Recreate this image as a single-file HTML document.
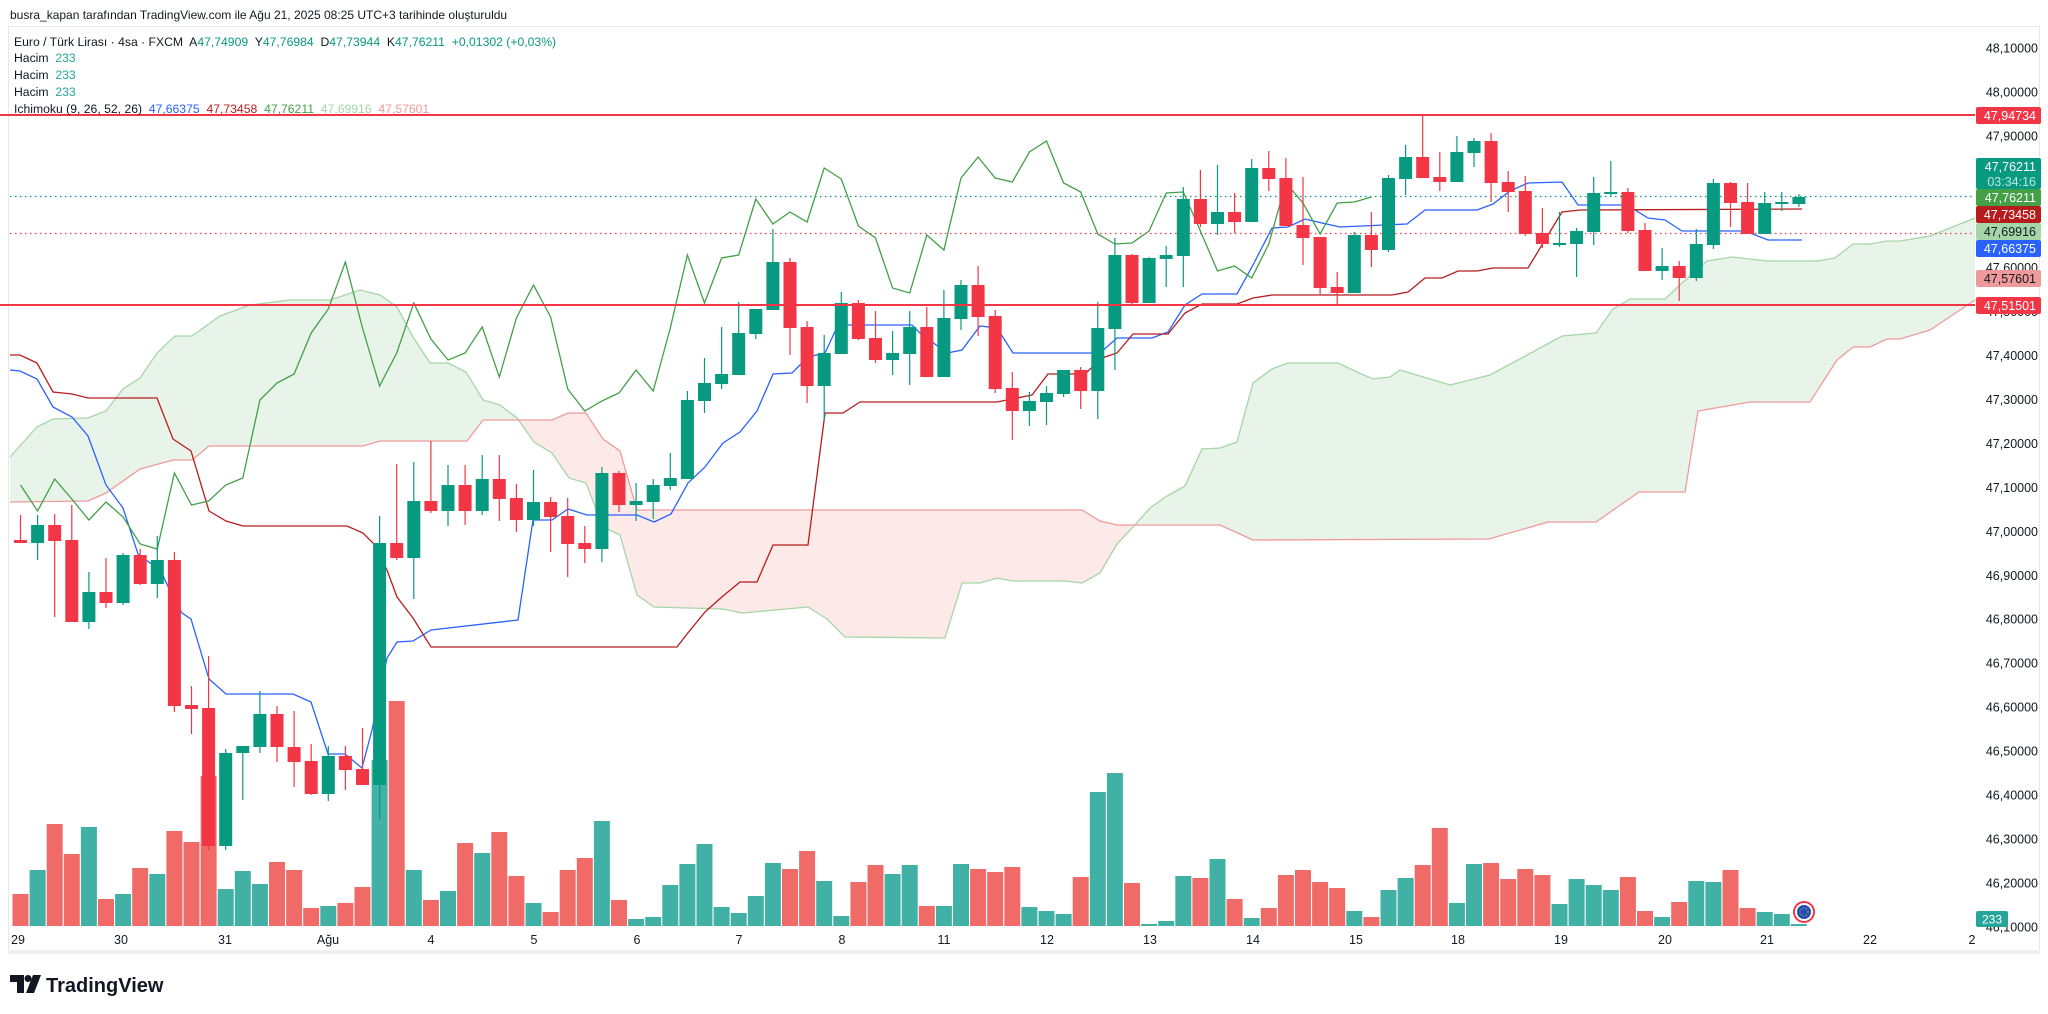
<!DOCTYPE html>
<html><head><meta charset="utf-8"><style>
html,body{margin:0;padding:0;background:#fff;width:2048px;height:1014px;overflow:hidden}
svg{display:block}
text{font-family:"Liberation Sans",sans-serif}
</style></head><body>
<svg id="s" width="2048" height="1014" viewBox="0 0 2048 1014" xmlns="http://www.w3.org/2000/svg"></svg>
<script>
var S=document.getElementById('s');var h='';
function add(x){h+=x;}
var C=[[540,543,515,543],[543,525,515,560],[525,541,514,617],[540,622,505,622],[622,592,572,629],[592,603,558,608],[603,555,553,605],[555,584,549,585],[584,560,536,598],[560,706,552,712],
[705,709,686,734],[708,846,656,850],[846,753,749,850],[753,746,746,800],[747,714,691,753],[714,747,706,762],[747,762,711,787],[761,794,744,795],[794,756,746,801],[756,770,746,790],
[769,785,728,785],[785,543,516,819],[543,558,464,560],[558,501,462,599],[501,511,441,513],[511,485,465,526],[485,511,465,525],[511,479,455,515],[479,499,455,521],[498,520,484,532],
[520,502,470,526],[502,517,497,552],[516,544,498,577],[543,549,526,563],[549,473,467,562],[473,505,471,512],[505,501,483,521],[502,485,479,519],[486,478,453,490],[479,400,391,479],
[401,383,358,413],[384,374,327,389],[375,333,302,375],[334,309,309,339],[310,262,229,310],[262,328,258,355],[327,386,321,403],[386,353,335,420],[354,303,292,354],[303,339,300,340],
[338,360,311,363],[360,353,331,375],[354,327,311,385],[327,377,307,377],[377,318,290,377],[319,285,280,330],[285,317,266,336],[316,389,310,393],[388,411,372,440],[411,401,392,426],
[402,393,386,425],[394,370,370,397],[370,391,367,409],[391,328,302,419],[329,255,238,370],[255,303,254,305],[303,258,257,303],[259,255,246,287],[256,199,187,287],[199,224,170,227],
[224,212,165,235],[212,222,193,233],[222,168,159,222],[168,179,151,191],[178,226,158,226],[225,238,177,265],[237,288,237,294],[287,293,272,304],[293,235,232,293],[235,250,212,267],
[250,178,175,252],[179,157,145,195],[157,178,116,178],[177,182,152,191],[182,152,136,182],[153,141,138,167],[141,183,133,202],[182,192,171,212],[191,234,176,236],[233,244,208,248],
[244,243,212,247],[244,231,228,277],[232,193,177,245],[193,192,161,197],[192,231,188,233],[230,271,223,271],[271,266,248,280],[266,278,261,301],[278,244,229,281],[245,183,179,249],
[183,203,182,227],[202,234,183,234],[234,203,192,234],[203,202,192,211],[204,197,194,207]];
var V=[894,870,824,854,827,899,894,868,874,831,842,776,889,871,884,862,870,908,906,903,887,760,701,870,900,891,843,853,832,876,903,912,870,858,821,900,919,917,885,864,844,907,913,896,863,869,851,881,916,882,865,874,865,906,906,864,869,872,867,907,911,914,877,792,773,883,924,921,876,878,859,899,918,908,875,870,882,888,911,917,890,878,865,828,903,864,863,879,869,875,904,879,885,890,877,911,917,902,881,882,870,908,912,914,924];
function X(i){return 20.5+17.1*i;}
var A=[[10,457],[37,427],[53,419],[88,418],[106,411],[123,389],[140,378],[157,353],[175,336],[192,336],[220,316],[250,305],[290,300],[330,300],[360,290],[380,295],[397,307],[413,337],[430,363],[448,363],[466,372],[483,400],[500,405],[517,418],[534,442],[552,453],[569,478],[586,483],[603,527],[620,535],[637,595],[654,607],[723,609],[742,613],[808,607],[827,619],[845,637],[945,638],[962,583],[980,583],[997,578],[1013,581],[1065,581],[1082,583],[1100,573],[1117,544],[1133,527],[1150,508],[1167,496],[1185,486],[1202,449],[1220,448],[1237,442],[1253,383],[1272,369],[1288,363],[1338,363],[1357,372],[1373,379],[1390,377],[1400,370],[1450,385],[1490,375],[1518,360],[1562,336],[1596,333],[1613,309],[1630,299],[1665,299],[1682,283],[1707,261],[1732,257],[1767,261],[1817,261],[1835,258],[1853,244],[1870,244],[1887,241],[1900,241],[1930,236],[1975,218]];
var B=[[10,502],[88,501],[106,493],[140,469],[173,460],[192,460],[209,446],[363,446],[380,441],[467,441],[483,420],[552,420],[568,413],[586,413],[603,439],[620,451],[637,510],[1082,510],[1100,521],[1117,525],[1220,525],[1253,540],[1489,539],[1548,522],[1596,522],[1639,492],[1685,492],[1698,411],[1750,402],[1810,402],[1837,360],[1853,347],[1870,347],[1887,339],[1900,339],[1930,330],[1975,300]];
var T=[[10,370],[20,371],[37,379],[53,407],[72,417],[88,436],[106,485],[123,508],[138,554],[150,563],[158,565],[173,597],[182,613],[191,619],[209,679],[226,694],[293,694],[311,702],[328,754],[345,754],[362,768],[372,730],[387,658],[397,642],[413,641],[431,630],[518,620],[533,520],[552,520],[568,509],[587,515],[637,515],[654,522],[671,514],[688,483],[705,467],[723,443],[740,432],[757,411],[773,374],[792,373],[808,357],[825,353],[838,325],[912,325],[920,333],[947,353],[962,350],[980,326],[997,328],[1013,353],[1100,353],[1117,338],[1152,338],[1168,332],[1185,305],[1202,294],[1237,294],[1253,265],[1272,228],[1288,227],[1305,219],[1322,223],[1340,227],[1407,224],[1425,210],[1477,210],[1493,204],[1510,191],[1528,183],[1562,182],[1578,205],[1627,205],[1648,218],[1665,220],[1682,231],[1745,231],[1768,240],[1802,240]];
var K=[[10,355],[20,355],[37,363],[53,392],[72,394],[88,398],[157,398],[173,439],[191,451],[209,511],[226,521],[243,526],[347,526],[363,533],[373,543],[387,570],[397,597],[413,618],[431,647],[677,647],[687,634],[705,612],[723,596],[740,582],[757,582],[773,545],[808,545],[825,413],[843,413],[860,402],[997,402],[1032,395],[1048,374],[1085,374],[1102,358],[1117,353],[1133,334],[1168,334],[1185,313],[1202,304],[1237,304],[1253,298],[1272,295],[1392,295],[1408,292],[1425,278],[1442,278],[1458,271],[1477,271],[1493,268],[1528,268],[1562,212],[1580,210],[1802,209]];
function interp(P,x){for(var i=0;i<P.length-1;i++){if(x>=P[i][0]&&x<=P[i+1][0]){var t=(x-P[i][0])/(P[i+1][0]-P[i][0]);return P[i][1]+t*(P[i+1][1]-P[i][1]);}}return P[P.length-1][1];}
function pl(P){return P.map(function(p){return p[0].toFixed(1)+','+p[1].toFixed(1)}).join(' ');}
add('<rect x="8.5" y="26.5" width="2031" height="926" fill="none" stroke="#e6e7ea"/>');
add('<rect x="8" y="950" width="2032" height="4" fill="#f0f0f2"/>');
var g1=[],g2=[],p1=[],p2=[];
for(var x=10;x<=1975;x+=1){var a=interp(A,x),b=interp(B,x);var m=Math.max(a,b);g1.push([x,a]);g2.unshift([x,m]);p1.push([x,b]);p2.unshift([x,m]);}
add('<polygon points="'+pl(g1.concat(g2))+'" fill="#e8f4e9"/>');
add('<polygon points="'+pl(p1.concat(p2))+'" fill="#fce9e8"/>');
add('<polyline points="'+pl(A)+'" fill="none" stroke="#a5d6a7" stroke-width="1.3"/>');
add('<polyline points="'+pl(B)+'" fill="none" stroke="#ef9a9a" stroke-width="1.3"/>');
for(var i=0;i<V.length;i++){var up=C[i][1]<C[i][0]||(C[i][1]==C[i][0]);add('<rect x="'+(X(i)-8).toFixed(1)+'" y="'+V[i]+'" width="16" height="'+(926-V[i])+'" fill="'+(up?'#42b1a5':'#f06b68')+'"/>');}
add('<line x1="10" y1="196.5" x2="1975" y2="196.5" stroke="#089981" stroke-width="1.3" stroke-dasharray="1.5 3.5"/>');
add('<line x1="10" y1="233.5" x2="1975" y2="233.5" stroke="#f23645" stroke-width="1.3" stroke-dasharray="1.5 3.5"/>');
add('<polyline points="'+pl(T)+'" fill="none" stroke="#2962ff" stroke-width="1.3"/>');
add('<polyline points="'+pl(K)+'" fill="none" stroke="#b71c1c" stroke-width="1.3"/>');
var CH=[];for(var i=0;i+25<C.length;i++){CH.push([X(i),C[i+25][1]]);}
add('<polyline points="'+pl(CH)+'" fill="none" stroke="#43a047" stroke-width="1.3"/>');
for(var i=0;i<C.length;i++){var c=C[i],x=X(i),up=c[1]<=c[0];var col=up?'#089981':'#f23645';var t=Math.min(c[0],c[1]),b=Math.max(c[0],c[1]);if(b-t<2){b=t+2;}
add('<line x1="'+x.toFixed(1)+'" y1="'+c[2]+'" x2="'+x.toFixed(1)+'" y2="'+c[3]+'" stroke="'+col+'" stroke-width="1.2"/>');
add('<rect x="'+(x-6.5).toFixed(1)+'" y="'+t+'" width="13" height="'+(b-t)+'" fill="'+col+'"/>');}
add('<line x1="0" y1="115" x2="1975" y2="115" stroke="#f23645" stroke-width="2"/>');
add('<line x1="0" y1="305" x2="1975" y2="305" stroke="#f23645" stroke-width="2"/>');
add('<circle cx="1804" cy="912" r="10" fill="#fff" stroke="#f23645" stroke-width="2"/><circle cx="1804" cy="912" r="7" fill="#1f4fb5"/><circle cx="1804" cy="912" r="4" fill="none" stroke="#f5c400" stroke-width="1" stroke-dasharray="1 2"/>');
for(var k=0;k<=21;k++){var p=48.1-k*0.1;var y=135.8+(47.9-p)*439.5;if(y>940)break;add('<text x="2038" y="'+(y+4.5).toFixed(1)+'" font-size="12.5" fill="#131722" text-anchor="end">'+p.toFixed(5).replace('.',',')+'</text>');}
function box(y1,y2,bg,fg,txt){add('<rect x="1976" y="'+y1+'" width="65" height="'+(y2-y1)+'" rx="2" fill="'+bg+'"/><text x="2036" y="'+((y1+y2)/2+4.5)+'" font-size="12.5" fill="'+fg+'" text-anchor="end">'+txt+'</text>');}
box(107,124,'#f23645','#fff','47,94734');
add('<rect x="1976" y="158" width="65" height="31" rx="2" fill="#089981"/><text x="2036" y="171" font-size="12.5" fill="#fff" text-anchor="end">47,76211</text><text x="2036" y="186" font-size="12.5" fill="#bfe6df" text-anchor="end">03:34:16</text>');
box(189,206,'#43a047','#fff','47,76211');
box(206,223,'#b71c1c','#fff','47,73458');
box(223,240,'#a5d6a7','#131722','47,69916');
box(240,257,'#2962ff','#fff','47,66375');
box(270,287,'#ef9a9a','#131722','47,57601');
box(297,314,'#f23645','#fff','47,51501');
add('<rect x="1976" y="911" width="32" height="16" rx="2" fill="#26a69a"/><text x="1992" y="923.5" font-size="12" fill="#fff" text-anchor="middle">233</text>');
var D=[[18,'29'],[121,'30'],[225,'31'],[328,'Ağu'],[431,'4'],[534,'5'],[637,'6'],[739,'7'],[842,'8'],[944,'11'],[1047,'12'],[1150,'13'],[1253,'14'],[1356,'15'],[1458,'18'],[1561,'19'],[1665,'20'],[1767,'21'],[1870,'22'],[1972,'2']];
D.forEach(function(d){add('<text x="'+d[0]+'" y="944" font-size="12.5" fill="#131722" text-anchor="middle">'+d[1]+'</text>');});
add('<text x="10" y="19" font-size="12" fill="#131722">busra_kapan tarafından TradingView.com ile Ağu 21, 2025 08:25 UTC+3 tarihinde oluşturuldu</text>');
add('<text x="14" y="46" font-size="12.2" fill="#131722" xml:space="preserve">Euro / Türk Lirası · 4sa · FXCM  A<tspan fill="#089981">47,74909</tspan>  Y<tspan fill="#089981">47,76984</tspan>  D<tspan fill="#089981">47,73944</tspan>  K<tspan fill="#089981">47,76211</tspan>  <tspan fill="#089981">+0,01302 (+0,03%)</tspan></text>');
[62,79,96].forEach(function(y){add('<text x="14" y="'+y+'" font-size="12.2" fill="#131722" xml:space="preserve">Hacim  <tspan fill="#26a69a">233</tspan></text>');});
add('<text x="14" y="113" font-size="12.2" fill="#131722" xml:space="preserve">Ichimoku (9, 26, 52, 26)  <tspan fill="#2962ff">47,66375</tspan>  <tspan fill="#b71c1c">47,73458</tspan>  <tspan fill="#43a047">47,76211</tspan>  <tspan fill="#a5d6a7">47,69916</tspan>  <tspan fill="#ef9a9a">47,57601</tspan></text>');
add('<path d="M10 975h14v18h-7v-11h-7z" fill="#131722"/><circle cx="28" cy="978.5" r="3.5" fill="#131722"/><path d="M33 975h8l-7 18h-8z" fill="#131722"/>');
add('<text x="46" y="992" font-size="20" font-weight="bold" fill="#131722">TradingView</text>');
S.innerHTML=h;
</script>
</body></html>
